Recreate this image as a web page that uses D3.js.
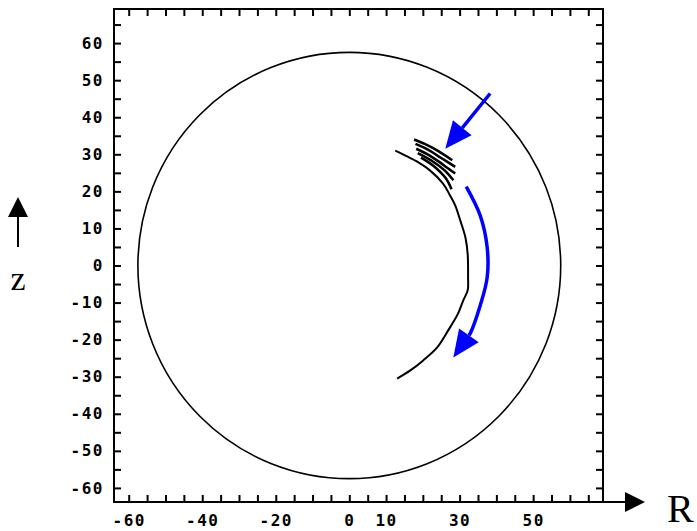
<!DOCTYPE html>
<html>
<head>
<meta charset="utf-8">
<script src="https://cdn.jsdelivr.net/npm/d3@7"></script>
<style>
  body { margin: 0; background: #fff; }
  .tick text { font-family: "DejaVu Sans Mono", monospace; font-weight: bold; font-size: 16px; letter-spacing: 1.5px; fill: #000; }
  .tick line { stroke: #000; stroke-width: 2; }
</style>
</head>
<body>
<div id="chart"></div>
<script>
// axis ticks
const xTicks = d3.range(-60, 70, 5);
const yTicks = d3.range(-60, 70, 5);
const xLabels = [-60, -40, -20, 0, 10, 30, 50];
const yLabels = [-60, -50, -40, -30, -20, -10, 0, 10, 20, 30, 40, 50, 60];

// chamber wall (R, z) centre and radius
const wallCentre = [0, 0];
const wallRadius = 57.5;

// particle track (R, z)
const trackMain = [[12.5, 31.0], [15.0, 29.8], [18.8, 27.8], [22.0, 25.6], [25.5, 22.1],
  [27.4, 18.9], [28.8, 16.2], [30.2, 12.1], [31.6, 7.5], [32.2, 3.0], [32.3, -3.0],
  [32.2, -6.7], [31.0, -9.4], [29.6, -12.9], [26.9, -17.5], [23.9, -22.1],
  [20.1, -25.6], [16.6, -28.3], [13.0, -30.5]];
const bounce1 = [[17.6, 34.0], [20.5, 32.8], [24.0, 31.0], [28.0, 28.4]];
const bounce2 = [[18.0, 32.8], [21.5, 31.2], [25.0, 29.0], [28.8, 26.6]];
const bounce3 = [[18.2, 31.5], [22.0, 29.6], [25.5, 27.2], [28.8, 24.8]];
const bounce4 = [[18.6, 30.3], [22.5, 28.2], [26.0, 25.6], [28.3, 23.0]];
const bounce5 = [[19.5, 29.1], [23.0, 26.8], [26.2, 23.6], [27.8, 20.6]];

// blue annotation arrows (R, z)
const arrowIn = [[38.3, 46.4], [26.1, 31.5]];
const arrowDown = [[31.8, 21.3], [35.6, 13.5], [37.5, 4.9], [37.5, -3.2], [35.6, -10.8], [32.9, -18.3], [28.3, -24.8]];

const W = 697, H = 531;
const margin = {top: 9, right: 94, bottom: 29, left: 114};

const x = d3.scaleLinear().domain([-64, 69]).range([margin.left, W - margin.right]);
const y = d3.scaleLinear().domain([-63.8, 69.2]).range([H - margin.bottom, margin.top]);

const svg = d3.select("#chart").append("svg")
  .attr("width", W).attr("height", H);

const fmt = d => String(d);

// frame
svg.append("rect")
  .attr("x", x.range()[0]).attr("y", y.range()[1])
  .attr("width", x.range()[1] - x.range()[0])
  .attr("height", y.range()[0] - y.range()[1])
  .attr("fill", "none").attr("stroke", "#000").attr("stroke-width", 2);

// axes with inward ticks
const gLeft = svg.append("g").attr("transform", `translate(${x.range()[0]},0)`)
  .call(d3.axisLeft(y).tickValues(yTicks).tickSizeInner(-7).tickSizeOuter(0).tickPadding(10)
    .tickFormat(d => yLabels.includes(d) ? fmt(d) : ""));
const gBottom = svg.append("g").attr("transform", `translate(0,${y.range()[0]})`)
  .call(d3.axisBottom(x).tickValues(xTicks).tickSizeInner(-7).tickSizeOuter(0).tickPadding(13)
    .tickFormat(d => xLabels.includes(d) ? fmt(d) : ""));
const gTop = svg.append("g").attr("transform", `translate(0,${y.range()[1]})`)
  .call(d3.axisTop(x).tickValues(xTicks).tickSizeInner(-7).tickSizeOuter(0).tickFormat(""));
const gRight = svg.append("g").attr("transform", `translate(${x.range()[1]},0)`)
  .call(d3.axisRight(y).tickValues(yTicks).tickSizeInner(-7).tickSizeOuter(0).tickFormat(""));
[gLeft, gBottom, gTop, gRight].forEach(g => g.select(".domain").remove());

// chamber wall
svg.append("ellipse")
  .attr("cx", x(wallCentre[0])).attr("cy", y(wallCentre[1]))
  .attr("rx", x(wallRadius) - x(0)).attr("ry", y(0) - y(wallRadius))
  .attr("fill", "none").attr("stroke", "#000").attr("stroke-width", 1.6);

// track
const line = d3.line().x(d => x(d[0])).y(d => y(d[1])).curve(d3.curveCatmullRom);
svg.selectAll(".track")
  .data([trackMain, bounce1, bounce2, bounce3, bounce4, bounce5])
  .enter().append("path")
  .attr("class", "track")
  .attr("d", line)
  .attr("fill", "none").attr("stroke", "#000")
  .attr("stroke-width", (d, i) => i === 0 ? 2 : 2.6);

// blue arrows
function drawArrow(pts, curved) {
  const p = pts.map(d => [x(d[0]), y(d[1])]);
  const tip = p[p.length - 1], prev = p[p.length - 2];
  const ang = Math.atan2(tip[1] - prev[1], tip[0] - prev[0]);
  const len = 27, half = 12;
  const base = [tip[0] - len * Math.cos(ang), tip[1] - len * Math.sin(ang)];
  const shaft = p.slice(0, -1).concat([base]);
  svg.append("path")
    .attr("d", d3.line().curve(curved ? d3.curveCatmullRom : d3.curveLinear)(shaft))
    .attr("fill", "none").attr("stroke", "#0000ff").attr("stroke-width", 3.5);
  const nx = -Math.sin(ang), ny = Math.cos(ang);
  svg.append("path")
    .attr("d", d3.line()([tip, [base[0] + half * nx, base[1] + half * ny], [base[0] - half * nx, base[1] - half * ny]]) + "Z")
    .attr("fill", "#0000ff");
}
drawArrow(arrowIn, false);
drawArrow(arrowDown, true);

// outer axis arrows and labels
const zx = 18;
svg.append("line").attr("x1", zx).attr("x2", zx).attr("y1", 247).attr("y2", 214)
  .attr("stroke", "#000").attr("stroke-width", 2);
svg.append("path").attr("d", `M${zx},197L${zx - 10},217L${zx + 10},217Z`).attr("fill", "#000");
svg.append("text").attr("x", zx).attr("y", 290).attr("text-anchor", "middle")
  .style("font-family", "'Liberation Serif', serif").style("font-size", "34px").text("z");

const by = y.range()[0];
svg.append("line").attr("x1", x.range()[1]).attr("x2", 628).attr("y1", by).attr("y2", by)
  .attr("stroke", "#000").attr("stroke-width", 2);
svg.append("path").attr("d", `M645,${by}L625,${by - 10}L625,${by + 10}Z`).attr("fill", "#000");
svg.append("text").attr("x", 667).attr("y", 522)
  .style("font-family", "'Liberation Serif', serif").style("font-size", "40px").text("R");
</script>
</body>
</html>
